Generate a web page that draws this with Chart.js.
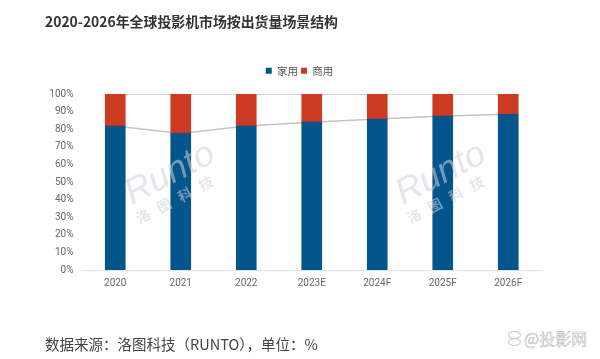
<!DOCTYPE html>
<html>
<head>
<meta charset="utf-8">
<script src="https://cdn.jsdelivr.net/npm/chart.js@4"></script>
<style>
  html, body { margin: 0; padding: 0; background: #fff; }
  #wrap { position: relative; width: 600px; height: 359px; overflow: hidden; font-family: 'Noto Sans CJK SC', sans-serif; }
  #title { position: absolute; left: 45px; top: 11px; font-size: 13.9px; font-weight: 700; color: #333; white-space: nowrap; }
  #source { position: absolute; left: 45px; top: 333px; font-size: 14.5px; color: #444; white-space: nowrap; }
  #credit { position: absolute; left: 524px; top: 326px; font-size: 16px; color: #fff; -webkit-text-stroke: 0.5px #b4b4b4; white-space: nowrap; }
  .ring { position: absolute; left: 508px; width: 13px; height: 8px; border: 1.5px solid #c8c8c8; border-radius: 50%; box-sizing: border-box; }
</style>
</head>
<body>
<div id="wrap">
  <canvas id="chart" width="600" height="359"></canvas>
  <div id="title">2020-2026年全球投影机市场按出货量场景结构</div>
  <div id="source">数据来源：洛图科技（RUNTO），单位：%</div>
  <div class="ring" style="top: 331px"></div>
  <div class="ring" style="top: 338px"></div>
  <div id="credit">@投影网</div>
</div>
<script>
const categories = ['2020', '2021', '2022', '2023E', '2024F', '2025F', '2026F']
const homeShare = [81.8, 77.6, 81.8, 84, 85.8, 87.5, 88.5]
const businessShare = [18.2, 22.4, 18.2, 16, 14.2, 12.5, 11.5]
const topLine = [100, 100, 100, 100, 100, 100, 100]

const labelFont = "'Noto Sans CJK SC', sans-serif"
const tickFont = "Roboto, sans-serif"
const watermarks = [[170, 174], [441, 174]]

// faint Runto stamp, sits on top of the bars like in the picture
const watermarkPlugin = {
  id: 'watermark',
  afterDatasetsDraw(chart) {
    const ctx = chart.ctx
    watermarks.forEach(([x, y]) => {
      ctx.save()
      ctx.translate(x, y)
      ctx.rotate(-0.48)
      ctx.textAlign = 'center'
      ctx.fillStyle = 'rgba(205, 210, 218, 0.55)'
      ctx.font = "italic 36px 'Liberation Sans', sans-serif"
      ctx.fillText('Runto', 0, 0)
      ctx.font = "700 14px " + labelFont
      ctx.fillText('洛   图   科   技', -8, 25)
      ctx.restore()
    })
  }
}

// extra room under the legend, and centre it on the page instead of the padded area
const legendTweakPlugin = {
  id: 'legendTweak',
  beforeInit(chart) {
    const fit = chart.legend.fit
    chart.legend.fit = function () {
      fit.call(this)
      this.height += 8
    }
  },
  afterLayout(chart) {
    chart.legend.left += 9
    chart.legend.right += 9
  }
}

const seriesLine = (data, stack) => ({
  type: 'line',
  data,
  stack,
  order: 2,
  borderColor: '#c4c4c4',
  borderWidth: 1.5,
  pointRadius: 0,
  tension: 0,
  fill: false
})

new Chart(document.getElementById('chart').getContext('2d'), {
  type: 'bar',
  data: {
    labels: categories,
    datasets: [
      { label: '家用', data: homeShare, backgroundColor: '#03558c', stack: 'share', order: 1, barThickness: 20 },
      { label: '商用', data: businessShare, backgroundColor: '#cc3a22', stack: 'share', order: 1, barThickness: 20 },
      seriesLine(homeShare, 'homeLine'),
      seriesLine(topLine, 'topLine')
    ]
  },
  options: {
    responsive: false,
    animation: false,
    layout: { padding: { left: 40, right: 59, top: 62.5, bottom: 0 } },
    plugins: {
      tooltip: { enabled: false },
      legend: {
        position: 'top',
        labels: {
          filter: item => item.datasetIndex < 2,
          boxWidth: 6,
          boxHeight: 6,
          padding: 3,
          color: '#555',
          font: { family: labelFont, size: 10.5 }
        }
      }
    },
    scales: {
      x: {
        stacked: true,
        grid: { display: false },
        border: { color: '#e2e2e2' },
        ticks: { color: '#666', font: { family: tickFont, size: 10 }, padding: -1, maxRotation: 0 },
        afterFit: scale => { scale.height = 89 }
      },
      y: {
        stacked: true,
        min: 0,
        max: 100,
        grid: { display: false },
        border: { display: false },
        ticks: { stepSize: 10, color: '#666', font: { family: tickFont, size: 10 }, callback: v => v + '%', padding: 1 },
        afterFit: scale => { scale.width = 42.5 }
      }
    }
  },
  plugins: [watermarkPlugin, legendTweakPlugin]
})
</script>
</body>
</html>
